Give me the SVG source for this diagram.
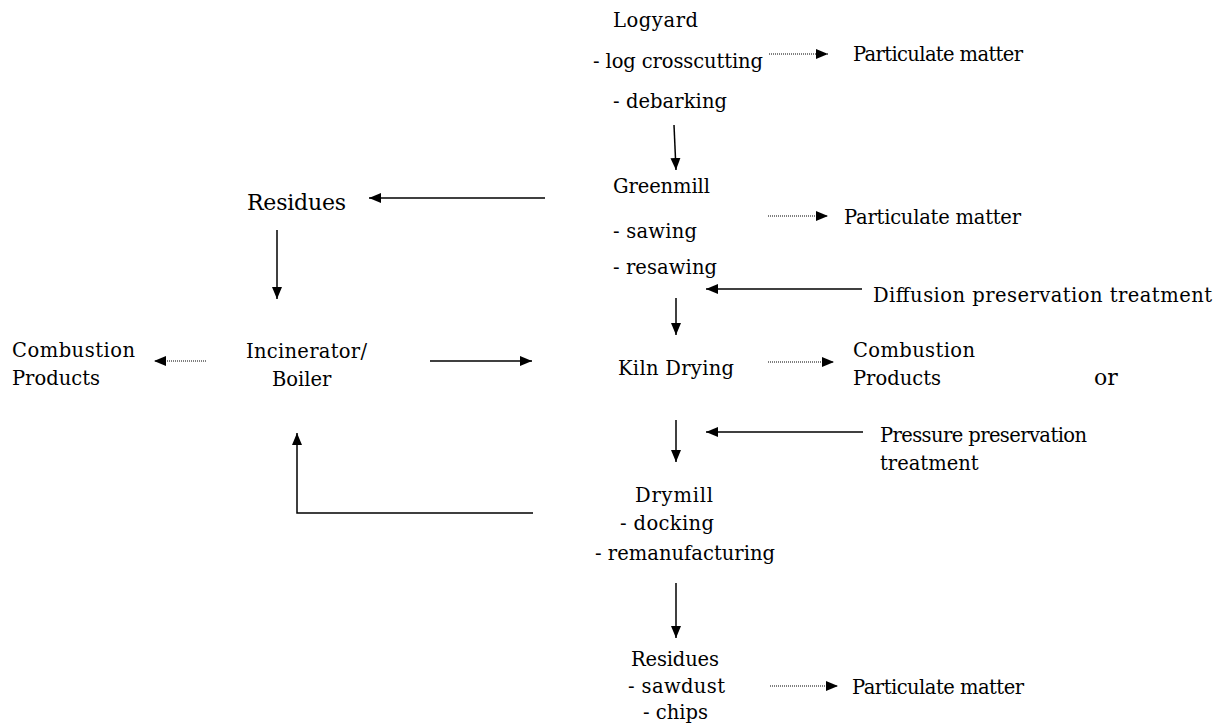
<svg xmlns="http://www.w3.org/2000/svg" width="1216" height="723" viewBox="0 0 1216 723">
<style>
text{font-family:"DejaVu Serif","Liberation Serif",serif;font-size:19.5px;fill:#000}
.big{font-size:22px}
.s{stroke:#000;stroke-width:1.5;fill:none}
.d{stroke:#000;stroke-width:1.2;stroke-dasharray:1 1;fill:none}
</style>
<defs>
<marker id="ah" markerUnits="userSpaceOnUse" markerWidth="14" markerHeight="12" refX="12" refY="6" orient="auto">
<path d="M0,1 L12,6 L0,11 Z" fill="#000"/>
</marker>
</defs>
<rect width="1216" height="723" fill="#fff"/>
<g id="logyard">
<text x="613" y="27" textLength="85">Logyard</text>
<text x="593" y="68" textLength="170">- log crosscutting</text>
<text x="613" y="108" textLength="114">- debarking</text>
</g>
<g id="pm1"><text x="853" y="61" textLength="170">Particulate matter</text></g>
<g id="greenmill">
<text x="613" y="193" textLength="97">Greenmill</text>
<text x="613" y="238" textLength="84">- sawing</text>
<text x="613" y="274" textLength="104">- resawing</text>
</g>
<g id="pm2"><text x="844" y="224" textLength="177">Particulate matter</text></g>
<g id="residues1"><text class="big" x="247" y="210" textLength="99">Residues</text></g>
<g id="diffusion"><text x="873" y="302" textLength="339">Diffusion preservation treatment</text></g>
<g id="kiln"><text x="618" y="375" textLength="116">Kiln Drying</text></g>
<g id="comb2"><text x="853" y="357" textLength="122">Combustion</text><text x="853" y="385">Products</text></g>
<g id="or"><text class="big" x="1094" y="385">or</text></g>
<g id="incinerator"><text x="246" y="358" textLength="121">Incinerator/</text><text x="272" y="386">Boiler</text></g>
<g id="comb1"><text x="12" y="357" textLength="123">Combustion</text><text x="12" y="385">Products</text></g>
<g id="pressure"><text x="880" y="442" textLength="207">Pressure preservation</text><text x="880" y="470">treatment</text></g>
<g id="drymill">
<text x="635" y="502" textLength="78">Drymill</text>
<text x="620" y="530" textLength="94">- docking</text>
<text x="595" y="560" textLength="180">- remanufacturing</text>
</g>
<g id="residues2">
<text x="631" y="666" textLength="88">Residues</text>
<text x="628" y="693" textLength="97">- sawdust</text>
<text x="643" y="719" textLength="65">- chips</text>
</g>
<g id="pm3"><text x="852" y="694" textLength="172">Particulate matter</text></g>
<g id="connectors">
<line class="d" x1="769" y1="54" x2="828" y2="54" marker-end="url(#ah)"/>
<line class="s" x1="674" y1="125" x2="676" y2="170" marker-end="url(#ah)"/>
<line class="s" x1="545" y1="198" x2="369" y2="198" marker-end="url(#ah)"/>
<line class="d" x1="768" y1="216" x2="828" y2="216" marker-end="url(#ah)"/>
<line class="s" x1="277" y1="230" x2="277" y2="299" marker-end="url(#ah)"/>
<line class="s" x1="862" y1="289" x2="706" y2="289" marker-end="url(#ah)"/>
<line class="s" x1="676" y1="298" x2="676" y2="335" marker-end="url(#ah)"/>
<line class="d" x1="768" y1="362" x2="834" y2="362" marker-end="url(#ah)"/>
<line class="d" x1="206" y1="361" x2="154" y2="361" marker-end="url(#ah)"/>
<line class="s" x1="430" y1="361" x2="532" y2="361" marker-end="url(#ah)"/>
<line class="s" x1="676" y1="420" x2="676" y2="462" marker-end="url(#ah)"/>
<line class="s" x1="863" y1="432" x2="706" y2="432" marker-end="url(#ah)"/>
<polyline class="s" points="533,513 297,513 297,433" marker-end="url(#ah)"/>
<line class="s" x1="676" y1="583" x2="676" y2="638" marker-end="url(#ah)"/>
<line class="d" x1="770" y1="686" x2="838" y2="686" marker-end="url(#ah)"/>
</g>
</svg>
